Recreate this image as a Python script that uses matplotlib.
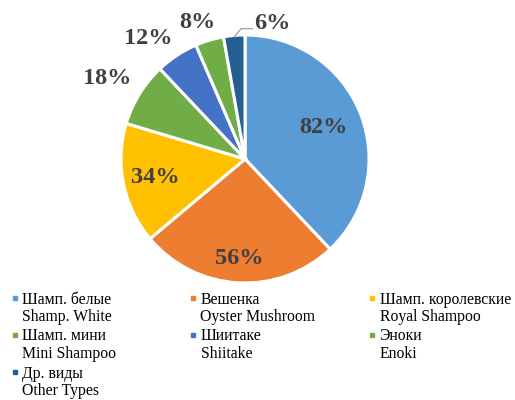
import numpy as np
import matplotlib

matplotlib.use("Agg")

import matplotlib.pyplot as plt
from matplotlib.patches import Rectangle

plt.rcParams["font.family"] = ["Liberation Serif", "DejaVu Serif"]

# ---------- Data ----------
labels_ru = ["Шамп. белые", "Вешенка", "Шамп. королевские", "Шамп. мини",
             "Шиитаке", "Эноки", "Др. виды"]
labels_en = ["Shamp. White", "Oyster Mushroom", "Royal Shampoo", "Mini Shampoo",
             "Shiitake", "Enoki", "Other Types"]
shares = [82, 56, 34, 18, 12, 8, 6]
colors = ["#5B9BD5", "#ED7D31", "#FFC000", "#70AD47",
          "#4472C4", "#70AD47", "#255E91"]

# label placement per wedge: radius (fraction of pie radius), angle nudge (deg)
label_r = [0.68, 0.80, 0.74, 1.29, 1.245, 1.17, None]
label_nudge = [0, 0, 0, 1.3, 5.6, 2.6, 0]

W, H = 515, 400
fig = plt.figure(figsize=(W / 100, H / 100), dpi=100)
ax = fig.add_axes([0.235, 0.2925, 0.4816, 0.62])

wedges, _ = ax.pie(
    shares, colors=colors, startangle=90, counterclock=False,
    wedgeprops=dict(edgecolor="white", linewidth=2.2),
)
ax.set_xlim(-1, 1)
ax.set_ylim(-1, 1)
ax.set_aspect("equal")

lab_kw = dict(fontsize=17.5, fontweight="bold", color="#404040",
              ha="center", va="center")
for w, val, r, dn in zip(wedges, shares, label_r, label_nudge):
    mid = np.deg2rad((w.theta1 + w.theta2) / 2 + dn)
    if r is None:
        # thin slice: label pulled aside with a leader line
        x0, y0 = 0.99 * np.cos(mid), 0.99 * np.sin(mid)
        ax.plot([x0, x0 + 0.055, x0 + 0.145], [y0, y0 + 0.065, y0 + 0.065],
                color="#A6A6A6", lw=1, clip_on=False)
        ax.text(x0 + 0.31, y0 + 0.11, f"{val}%", **lab_kw)
    else:
        ax.text(r * np.cos(mid), r * np.sin(mid), f"{val}%", **lab_kw)

# ---------- Legend: 3 columns, row-major, two text lines per entry ----------
col_x = [15, 193, 372]
first_base = 303.5
line_step = 17.5
row_step = 37
for i, (ru, en, c) in enumerate(zip(labels_ru, labels_en, colors)):
    row, col = divmod(i, 3)
    base = first_base + row * row_step
    mx = col_x[col]
    fig.patches.append(Rectangle(((mx - 2) / W, 1 - (base - 4) / H), 4 / W, 4 / H,
                                 transform=fig.transFigure, color=c))
    fig.text((mx + 7.5) / W, 1 - base / H, ru, fontsize=11.3,
             va="baseline", ha="left", color="black")
    fig.text((mx + 7.5) / W, 1 - (base + line_step) / H, en, fontsize=11.3,
             va="baseline", ha="left", color="black")

fig.savefig("out.png", dpi=100)
